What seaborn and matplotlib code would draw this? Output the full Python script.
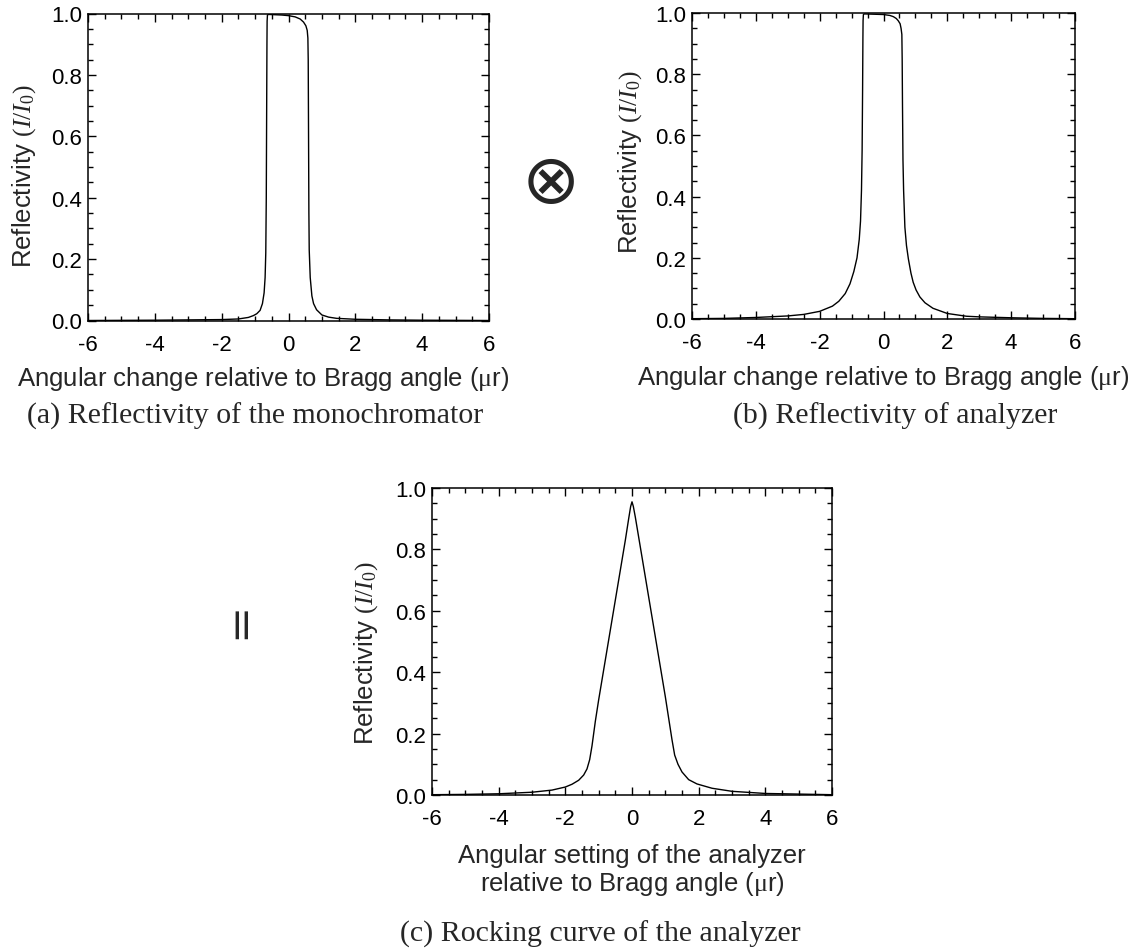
import numpy as np
import matplotlib
matplotlib.use("Agg")
import matplotlib.pyplot as plt
from matplotlib.ticker import MultipleLocator, FormatStrFormatter
import seaborn as sns

# Reflectivity of the monochromator crystal (Darwin curve)
mono_angle = [-6.0, -4.0, -3.0, -2.0, -1.5, -1.2, -1.05, -0.95, -0.85, -0.78,
              -0.73, -0.70, -0.68, -0.665, -0.655, -0.645, -0.64, -0.63, -0.60,
              -0.40, -0.20, 0.00, 0.20, 0.35, 0.45, 0.52, 0.56, 0.58, 0.59,
              0.60, 0.61, 0.62, 0.65, 0.70, 0.75, 0.84, 1.00, 1.20, 1.44, 2.0,
              3.0, 4.0, 6.0]
mono_refl = [0.000, 0.001, 0.002, 0.003, 0.005, 0.010, 0.016, 0.022, 0.033, 0.055,
             0.090, 0.140, 0.220, 0.400, 0.650, 0.900, 0.975, 0.995, 0.997,
             0.996, 0.995, 0.993, 0.989, 0.982, 0.972, 0.960, 0.945, 0.920, 0.850,
             0.600, 0.350, 0.230, 0.140, 0.080, 0.055, 0.035, 0.018, 0.011, 0.007, 0.004,
             0.002, 0.001, 0.000]

# Reflectivity of the analyzer crystal
ana_angle = [-6.0, -5.0, -4.0, -3.0, -2.5, -2.0, -1.6, -1.4, -1.2, -1.05,
             -0.93, -0.83, -0.76, -0.72, -0.69, -0.67, -0.655, -0.645, -0.64,
             -0.63, -0.60, -0.30, 0.00, 0.20, 0.31, 0.40, 0.46, 0.52, 0.55,
             0.575, 0.585, 0.595, 0.61, 0.63, 0.67, 0.72, 0.78, 0.86, 0.93,
             1.02, 1.14, 1.30, 1.55, 2.0, 2.6, 3.0, 4.0, 5.0, 6.0]
ana_refl = [0.001, 0.002, 0.005, 0.010, 0.015, 0.025, 0.042, 0.058, 0.083, 0.115,
            0.155, 0.200, 0.260, 0.320, 0.420, 0.550, 0.750, 0.920, 0.975,
            0.995, 0.997, 0.996, 0.995, 0.992, 0.988, 0.982, 0.975, 0.965, 0.950,
            0.930, 0.850, 0.700, 0.520, 0.420, 0.300, 0.240, 0.196, 0.150, 0.120,
            0.095, 0.072, 0.053, 0.035, 0.018, 0.009, 0.007, 0.004, 0.002, 0.001]

# Rocking curve of the analyzer
rock_angle = [-6.0, -5.0, -4.0, -3.0, -2.4, -2.0, -1.8, -1.6, -1.45, -1.35,
              -1.27, -1.2, -1.1, -1.0, -0.8, -0.6, -0.4, -0.2, -0.1, -0.04,
              0.0, 0.04, 0.1, 0.2, 0.4, 0.6, 0.8, 1.0, 1.1, 1.2, 1.28, 1.38,
              1.5, 1.7, 1.95, 2.4, 3.0, 4.0, 5.0, 6.0]
rock_refl = [0.001, 0.002, 0.004, 0.009, 0.016, 0.026, 0.035, 0.048, 0.065, 0.085,
             0.115, 0.160, 0.240, 0.310, 0.440, 0.570, 0.700, 0.830, 0.900, 0.940,
             0.955, 0.940, 0.905, 0.840, 0.710, 0.580, 0.450, 0.320, 0.250, 0.180,
             0.130, 0.100, 0.075, 0.050, 0.036, 0.022, 0.012, 0.005, 0.003, 0.001]

x_ticks = [-6, -4, -2, 0, 2, 4, 6]
y_ticks = [0.0, 0.2, 0.4, 0.6, 0.8, 1.0]

sns.set_theme(style="ticks")
plt.rcParams["font.family"] = ["Liberation Sans", "DejaVu Sans"]
plt.rcParams["mathtext.fontset"] = "custom"
plt.rcParams["mathtext.rm"] = "Liberation Serif"
plt.rcParams["mathtext.it"] = "Liberation Serif:italic"
plt.rcParams["axes.unicode_minus"] = False

fig = plt.figure(figsize=(11.47, 9.53), dpi=100)
W, H = 1147.0, 953.0


def box(left, top, right, bottom):
    return [left / W, 1 - bottom / H, (right - left) / W, (bottom - top) / H]


ax_a = fig.add_axes(box(88, 14.5, 489, 321.5))
ax_b = fig.add_axes(box(692, 14, 1075, 320))
ax_c = fig.add_axes(box(432, 489, 832, 796))

ylabel = r"Reflectivity $(I/I_{\mathit{0}})$"
xlabel = r"Angular change relative to Bragg angle ($\mathrm{\mu}$r)"
xlabel_c = "Angular setting of the analyzer\n" + r"relative to Bragg angle ($\mathrm{\mu}$r)"

# (axes, x, y, x label, x-label pad, x-label centre, y-label pad, y-label centre)
panels = [
    (ax_a, mono_angle, mono_refl, xlabel, 6.7, 0.436, 9.5, 0.474),
    (ax_b, ana_angle, ana_refl, xlabel, 6.7, 0.5, 8.5, 0.516),
    (ax_c, rock_angle, rock_refl, xlabel_c, 10.0, 0.5, 11.0, 0.466),
]

for ax, xs, ys, xl, xpad, xc, ypad, yc in panels:
    sns.lineplot(x=xs, y=ys, ax=ax, color="black", linewidth=1.0, sort=False)
    ax.set_xlim(-6, 6)
    ax.set_ylim(0, 1.0)
    ax.set_xticks(x_ticks)
    ax.set_yticks(y_ticks)
    ax.xaxis.set_major_formatter(FormatStrFormatter("%d"))
    ax.yaxis.set_major_formatter(FormatStrFormatter("%.1f"))
    ax.xaxis.set_minor_locator(MultipleLocator(0.5))
    ax.yaxis.set_minor_locator(MultipleLocator(0.05))
    ax.tick_params(which="both", direction="in", top=True, right=True,
                   colors="black", labelsize=16, width=1.0)
    ax.tick_params(which="major", length=6)
    ax.tick_params(which="minor", length=3.5)
    ax.tick_params(axis="x", which="major", pad=9.5)
    ax.tick_params(axis="y", which="major", pad=4)
    for sp in ax.spines.values():
        sp.set_visible(True)
        sp.set_color("black")
        sp.set_linewidth(1.1)
    ax.set_facecolor("white")
    ax.set_xlabel(xl, fontsize=18.5, labelpad=xpad, linespacing=1.1)
    ax.set_ylabel(ylabel, fontsize=18.5, labelpad=ypad)
    ax.xaxis.label.set_x(xc)
    ax.yaxis.label.set_y(yc)

# Sub-figure captions
cap_kw = dict(fontsize=21.5, family=["Liberation Serif", "DejaVu Serif"],
              ha="center", va="center")
fig.text(255 / W, 1 - 416 / H, "(a) Reflectivity of the monochromator", **cap_kw)
fig.text(895 / W, 1 - 416 / H, "(b) Reflectivity of analyzer", **cap_kw)
fig.text(600 / W, 1 - 934 / H, "(c) Rocking curve of the analyzer", **cap_kw)

# Convolution and equality operators between the panels
fig.text(551 / W, 1 - 183 / H, "\u2297", fontsize=50, family=["DejaVu Sans"],
         ha="center", va="center")
fig.text(240 / W, 1 - 620 / H, "=", fontsize=32, family=["DejaVu Sans"],
         rotation=90, ha="center", va="center")

fig.savefig("out.png", dpi=100, facecolor="white")
